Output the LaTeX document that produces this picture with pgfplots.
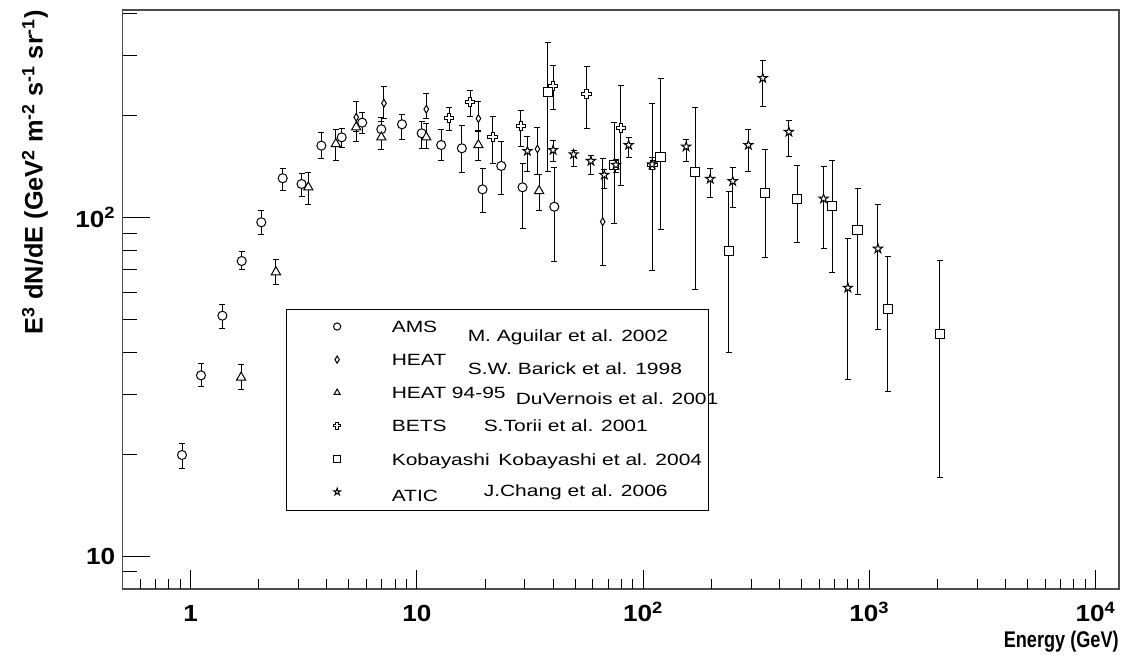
\documentclass[border=0pt]{standalone}
\usepackage{pgfplots}
\usepackage{pgfplotstable}
\pgfplotsset{compat=1.18}
\usepackage{fontspec}
\setmainfont{Liberation Sans}
\newfontfamily\legfont[FakeStretch=1.29]{Liberation Sans}
\newfontfamily\tickfont[FakeStretch=1.12]{Liberation Sans}
\newfontfamily\xlabfont[FakeStretch=0.8]{Liberation Sans}

\pgfdeclareplotmark{odiamond}{%
  \pgfpathmoveto{\pgfqpoint{0pt}{\pgfplotmarksize}}%
  \pgfpathlineto{\pgfqpoint{0.6\pgfplotmarksize}{0pt}}%
  \pgfpathlineto{\pgfqpoint{0pt}{-\pgfplotmarksize}}%
  \pgfpathlineto{\pgfqpoint{-0.6\pgfplotmarksize}{0pt}}%
  \pgfpathclose\pgfusepathqfillstroke}
\pgfdeclareplotmark{ocross}{%
  \pgfpathmoveto{\pgfqpoint{-0.33\pgfplotmarksize}{\pgfplotmarksize}}%
  \pgfpathlineto{\pgfqpoint{0.33\pgfplotmarksize}{\pgfplotmarksize}}%
  \pgfpathlineto{\pgfqpoint{0.33\pgfplotmarksize}{0.33\pgfplotmarksize}}%
  \pgfpathlineto{\pgfqpoint{\pgfplotmarksize}{0.33\pgfplotmarksize}}%
  \pgfpathlineto{\pgfqpoint{\pgfplotmarksize}{-0.33\pgfplotmarksize}}%
  \pgfpathlineto{\pgfqpoint{0.33\pgfplotmarksize}{-0.33\pgfplotmarksize}}%
  \pgfpathlineto{\pgfqpoint{0.33\pgfplotmarksize}{-\pgfplotmarksize}}%
  \pgfpathlineto{\pgfqpoint{-0.33\pgfplotmarksize}{-\pgfplotmarksize}}%
  \pgfpathlineto{\pgfqpoint{-0.33\pgfplotmarksize}{-0.33\pgfplotmarksize}}%
  \pgfpathlineto{\pgfqpoint{-\pgfplotmarksize}{-0.33\pgfplotmarksize}}%
  \pgfpathlineto{\pgfqpoint{-\pgfplotmarksize}{0.33\pgfplotmarksize}}%
  \pgfpathlineto{\pgfqpoint{-0.33\pgfplotmarksize}{0.33\pgfplotmarksize}}%
  \pgfpathclose\pgfusepathqfillstroke}
\pgfdeclareplotmark{ostar}{%
  \pgfpathmoveto{\pgfqpoint{0pt}{\pgfplotmarksize}}%
  \pgfpathlineto{\pgfqpoint{-0.223\pgfplotmarksize}{0.307\pgfplotmarksize}}%
  \pgfpathlineto{\pgfqpoint{-0.951\pgfplotmarksize}{0.309\pgfplotmarksize}}%
  \pgfpathlineto{\pgfqpoint{-0.361\pgfplotmarksize}{-0.117\pgfplotmarksize}}%
  \pgfpathlineto{\pgfqpoint{-0.588\pgfplotmarksize}{-0.809\pgfplotmarksize}}%
  \pgfpathlineto{\pgfqpoint{0pt}{-0.38\pgfplotmarksize}}%
  \pgfpathlineto{\pgfqpoint{0.588\pgfplotmarksize}{-0.809\pgfplotmarksize}}%
  \pgfpathlineto{\pgfqpoint{0.361\pgfplotmarksize}{-0.117\pgfplotmarksize}}%
  \pgfpathlineto{\pgfqpoint{0.951\pgfplotmarksize}{0.309\pgfplotmarksize}}%
  \pgfpathlineto{\pgfqpoint{0.223\pgfplotmarksize}{0.307\pgfplotmarksize}}%
  \pgfpathclose\pgfusepathqfillstroke}

\pgfplotstableread{
x y ep em
0.915 19.9 1.6 1.7
1.11 34.2 2.9 2.6
1.38 51.3 4.2 4.4
1.68 74.4 5.1 4.4
2.05 96.8 7.9 8.0
2.55 130.6 9.1 10.6
3.09 125.6 9.4 10
3.78 163 15 14.1
4.65 172.5 10.1 11.5
5.73 190.6 13.9 13.6
6.96 182.2 14.8 23.2
8.59 188.5 13.3 18.3
10.5 177.3 14.5 17.2
12.8 163.7 18.3 16.8
15.8 160.1 26.3 24.5
19.5 121.1 18.6 17.8
23.6 142 25.5 24.9
29.3 122.8 21.8 29.9
40.5 107.6 33 33.2
}\ams
\pgfplotstableread{
x y ep em
5.39 197.7 22 18
7.15 217.5 27 21.5
11.0 208.8 24 12.8
18.7 196 23.8 15.5
34.1 159.3 25 24.9
66.3 97.2 52 24.8
}\heat
\pgfplotstableread{
x y ep em
1.67 33.7 3.0 2.6
2.38 69 6.3 5.5
3.31 122.8 12.8 13.4
4.38 164.9 17.1 18
5.39 184.8 35 17.3
6.96 172.5 19.3 13.5
11.0 172.5 17.3 12.4
18.7 163.7 16.3 16.8
34.7 119.8 13.8 15.1
}\heatb
\pgfplotstableread{
x y ep em
13.9 197 14 16.5
17.2 219.8 18.1 20.4
21.6 173.2 25 28.6
28.8 186.4 21.3 24.5
40.0 245 37 36
56.2 231.2 48 47.7
79.8 183.5 61.5 58.8
110 143 74.5 73.3
}\bets
\pgfplotstableread{
x y ep em
37.8 234.4 94 98
74.6 143 47.6 47.3
119.4 151 107 58.7
170 136.6 75 75.5
239 79.5 39.9 39.5
346 118.5 40.2 42.3
480 113.7 28.6 29.1
686 108.4 39.4 39.8
887 91.6 30.4 32.5
1209 53.8 22.9 23.1
2047 45.4 29.5 28.3
}\koba
\pgfplotstableread{
x y ep em
30.8 157.2 15.8 20.6
40 158.2 10.1 12
49.3 153.7 4.5 12.4
58.8 146.9 5.2 12.5
67.4 133.6 5.2 11.6
75.8 143 5 7
86.3 163.7 8.8 13.6
109.6 143.6 6.5 5.4
155 161.9 7.6 15.7
198 130 9.5 15.7
249 128 12.4 21.2
292 163.7 18.3 27.2
338 258 33 46
441 179 15 27.5
628 113.7 27.5 32.9
804 62 24.9 28.7
1092 80.9 28 34.3
}\atic

\pgfplotsset{
  dat/.style={only marks, black, mark options={fill=white, draw=black, line width=0.75pt, solid},
    error bars/y dir=both, error bars/y explicit,
    error bars/error bar style={line width=0.75pt, black},
    error bars/error mark options={black, line width=0.75pt, mark size=2.25pt, rotate=90}},
}
\newcommand{\lent}[1]{\smash{\hspace*{38.25pt}\makebox[202.5pt][l]{#1}}}

\begin{document}
\begin{tikzpicture}
\useasboundingbox (0pt,0pt) rectangle (851.25pt,494.25pt);
\begin{axis}[
  at={(92.0pt,52.5pt)}, anchor=south west,
  scale only axis, width=747.2pt, height=434.25pt,
  xmode=log, ymode=log, xmin=0.5, xmax=12700, ymin=8, ymax=410,
  axis line style={draw=black!70, line width=1.1pt},
  xtick=\empty, xminorticks=false,
  ytick={10,100}, yticklabels={10,10\textsuperscript{2}},
  minor ytick={9,20,30,40,50,60,70,80,90,200,300,400},
  ytick pos=left, tick align=inside,
  major tick length=21pt, minor tick length=10.5pt,
  tick style={black, line width=0.75pt},
  yticklabel style={font=\tickfont\bfseries\fontsize{17.5}{20}\selectfont, xshift=-2pt},
  ylabel={E\textsuperscript{3} dN/dE (GeV\textsuperscript{2} m\textsuperscript{-2} s\textsuperscript{-1} sr\textsuperscript{-1})},
  ylabel style={at={(axis description cs:-0.088,1)}, anchor=east, font=\bfseries\fontsize{19}{22}\selectfont, inner sep=0pt},
  xlabel={Energy (GeV)},
  xlabel style={at={(axis description cs:1,-0.1002)}, anchor=base east, font=\xlabfont\bfseries\fontsize{17}{20}\selectfont, inner sep=0pt},
  legend style={at={(axis description cs:0.164,0.4836)}, anchor=north west, draw=black, line width=0.75pt, fill=white,
    inner xsep=35.25pt, inner ysep=0.8pt, nodes={inner sep=0pt}, row sep=0pt, column sep=0pt,
    font=\legfont\fontsize{12.2}{14}\selectfont},
  legend cell align=left,
  legend image code/.code={\path[draw=none, fill=none] (0pt,-7.4pt) -- (0pt,17.4pt); \draw[#1, mark size=2.7pt] plot coordinates {(0pt,5.4pt)};},
]
\addplot[dat, mark=*, mark size=3.4pt] table[x=x, y=y, y error plus=ep, y error minus=em]{\ams};
\addlegendentry{\lent{\makebox[57pt][l]{AMS}\raisebox{-6.5pt}{M. Aguilar et al. 2002}}}
\addplot[dat, mark=odiamond, mark size=2.9pt] table[x=x, y=y, y error plus=ep, y error minus=em]{\heat};
\addlegendentry{\lent{\makebox[57pt][l]{HEAT}\raisebox{-6.25pt}{S.W. Barick et al. 1998}}}
\addplot[dat, mark=triangle*, mark size=4pt] table[x=x, y=y, y error plus=ep, y error minus=em]{\heatb};
\addlegendentry{\lent{\makebox[93pt][l]{HEAT 94-95}\raisebox{-4.25pt}{DuVernois et al. 2001}}}
\addplot[dat, mark=ocross, mark size=3.5pt] table[x=x, y=y, y error plus=ep, y error minus=em]{\bets};
\addlegendentry{\lent{\makebox[69pt][l]{BETS}S.Torii et al. 2001}}
\addplot[dat, mark=square*, mark size=3.4pt] table[x=x, y=y, y error plus=ep, y error minus=em]{\koba};
\addlegendentry{\lent{\makebox[80pt][l]{Kobayashi}Kobayashi et al. 2004}}
\addplot[dat, mark=ostar, mark size=3.6pt] table[x=x, y=y, y error plus=ep, y error minus=em]{\atic};
\addlegendentry{\lent{\makebox[69pt][l]{\raisebox{-2.8pt}{ATIC}}\raisebox{1.1pt}{J.Chang et al. 2006}}}
\end{axis}
\begin{axis}[
  at={(92.0pt,52.5pt)}, anchor=south west,
  scale only axis, width=747.2pt, height=434.25pt,
  xmode=log, ymode=log, xmin=0.5, xmax=12700, ymin=8, ymax=410,
  axis line style={draw=none},
  ytick=\empty, yminorticks=false,
  xtick={1,10,100,1000,10000},
  xticklabels={1,10,10\textsuperscript{2},10\textsuperscript{3},10\textsuperscript{4}},
  minor xtick={0.6,0.7,0.8,0.9,2,3,4,5,6,7,8,9,20,30,40,50,60,70,80,90,200,300,400,500,600,700,800,900,2000,3000,4000,5000,6000,7000,8000,9000},
  xtick pos=left, tick align=inside,
  major tick length=14.25pt, minor tick length=7.5pt,
  tick style={black, line width=0.75pt},
  xticklabel style={font=\tickfont\bfseries\fontsize{17.5}{20}\selectfont, anchor=north, text height=12.5pt, text depth=0pt, yshift=-8.4pt},
]
\end{axis}
\end{tikzpicture}
\end{document}
